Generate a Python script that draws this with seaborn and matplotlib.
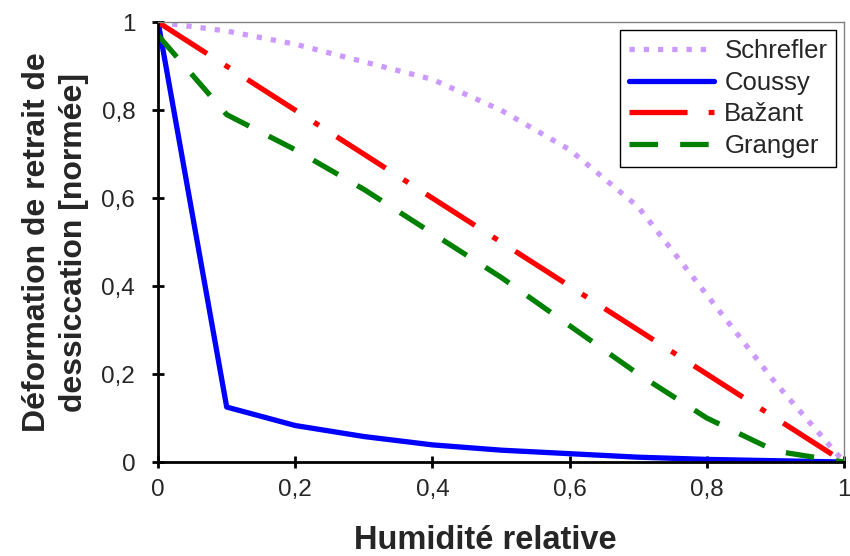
import numpy as np
import pandas as pd
import matplotlib
matplotlib.use("Agg")
import matplotlib.pyplot as plt
from matplotlib.ticker import FuncFormatter
import seaborn as sns

# Relative humidity and normalised drying shrinkage for each model
humidity = [0.0, 0.1, 0.2, 0.3, 0.4, 0.5, 0.6, 0.7, 0.8, 0.9, 1.0]
schrefler = [1.0, 0.98, 0.95, 0.91, 0.87, 0.80, 0.71, 0.58, 0.38, 0.18, 0.0]
coussy = [1.0, 0.125, 0.083, 0.058, 0.039, 0.027, 0.019, 0.011, 0.006, 0.003, 0.0]
bazant = [1.0, 0.9, 0.8, 0.7, 0.6, 0.5, 0.4, 0.3, 0.2, 0.1, 0.0]
granger = [0.97, 0.79, 0.71, 0.62, 0.52, 0.42, 0.31, 0.20, 0.10, 0.025, 0.0]

models = ["Schrefler", "Coussy", "Bažant", "Granger"]
colors = ["#CC99FF", "#0000FF", "#FF0000", "#008000"]
dashes = [(1, 1.7), "", (11, 4, 1.1, 4), (5.4, 4.2)]

df = pd.DataFrame({
    "hr": humidity * 4,
    "val": schrefler + coussy + bazant + granger,
    "model": sum([[m] * len(humidity) for m in models], []),
})

sns.set_style("white")
plt.rcParams["font.family"] = ["Liberation Sans", "DejaVu Sans"]

fig = plt.figure(figsize=(8.5, 5.56), dpi=100)
ax = fig.add_axes([0.186, 0.169, 0.807, 0.791])

sns.lineplot(data=df, x="hr", y="val", hue="model", style="model",
             hue_order=models, style_order=models,
             palette=colors, dashes=dashes, linewidth=3.8, ax=ax)

ax.set_xlim(0, 1)
ax.set_ylim(0, 1)
ax.set_xticks(np.arange(0, 1.01, 0.2))
ax.set_yticks(np.arange(0, 1.01, 0.2))
fmt = FuncFormatter(lambda v, p: ("%g" % round(v, 2)).replace(".", ","))
ax.xaxis.set_major_formatter(fmt)
ax.yaxis.set_major_formatter(fmt)
ax.tick_params(direction="inout", length=9, width=2, labelsize=17.5,
               color="black", bottom=True, left=True)
ax.tick_params(axis="x", pad=8)
ax.tick_params(axis="y", pad=12)

for s in ["left", "bottom"]:
    ax.spines[s].set_color("black")
    ax.spines[s].set_linewidth(2)
for s in ["top", "right"]:
    ax.spines[s].set_color("#808080")
    ax.spines[s].set_linewidth(1)

ax.set_xlabel("Humidité relative", fontsize=23.5, fontweight="bold", labelpad=17)
ax.xaxis.label.set_x(0.477)
ax.set_ylabel("Déformation de retrait de\ndessiccation [normée]",
              fontsize=23, fontweight="bold", labelpad=9, linespacing=1.3)

leg = ax.legend(loc="upper right", fontsize=18.5, frameon=True, fancybox=False,
                edgecolor="black", framealpha=1, handlelength=3.3,
                borderaxespad=0.3, labelspacing=0.3, handletextpad=0.4,
                borderpad=0.35)
leg.get_frame().set_linewidth(1)

fig.savefig("out.png", dpi=100)
